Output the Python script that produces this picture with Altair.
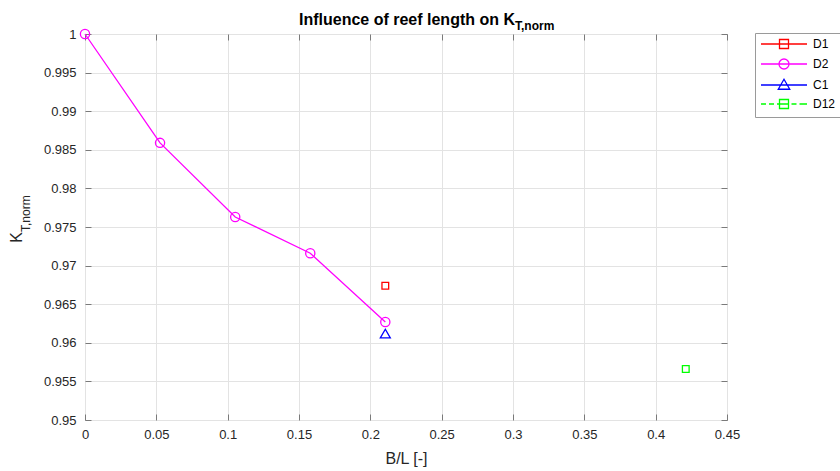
import altair as alt
import pandas as pd

# ---------------- data ----------------
series_names = ["D1", "D2", "C1", "D12"]
series_colors = ["#ff0000", "#ff00ff", "#0000ff", "#00ff00"]

d2_x = [0.0, 0.0526, 0.1053, 0.1579, 0.2105]
d2_y = [1.0, 0.9859, 0.9763, 0.9716, 0.9627]
d1_x = [0.2105]
d1_y = [0.9674]
c1_x = [0.2105]
c1_y = [0.9612]
d12_x = [0.4211]
d12_y = [0.9566]

x_ticks = [0, 0.05, 0.1, 0.15, 0.2, 0.25, 0.3, 0.35, 0.4, 0.45]
y_ticks = [0.95, 0.955, 0.96, 0.965, 0.97, 0.975, 0.98, 0.985, 0.99, 0.995, 1.0]

title_main = "Influence of reef length on K"
title_sub = "T,norm"
x_label = "B/L [-]"
y_label_main = "K"
y_label_sub = "T,norm"

rows = []
for name, xs_, ys_ in [("D1", d1_x, d1_y), ("D2", d2_x, d2_y),
                       ("C1", c1_x, c1_y), ("D12", d12_x, d12_y)]:
    for a, b in zip(xs_, ys_):
        rows.append({"series": name, "x": a, "y": b})
df = pd.DataFrame(rows)

# ---------------- styling ----------------
W, H = 642, 386
FONT = "Liberation Sans"
TXT = "#262626"
BOX = "#7a7a7a"
GRID = "#e3e3e3"
TICK_LEN = 6

xsc = alt.Scale(domain=[0, 0.45], nice=False, zero=False)
ysc = alt.Scale(domain=[0.95, 1.0], nice=False, zero=False)

main_x_axis = alt.Axis(values=x_ticks, format=".2~f", grid=True, gridColor=GRID,
                       ticks=False, domain=False, labelFont=FONT, labelFontSize=13,
                       labelColor=TXT, labelPadding=8, labelFlush=False, title=x_label,
                       titleFont=FONT, titleFontSize=16, titleFontWeight="normal",
                       titleColor=TXT, titlePadding=9)
main_y_axis = alt.Axis(values=y_ticks, format=".3~f", grid=True, gridColor=GRID,
                       ticks=False, domain=False, labelFont=FONT, labelFontSize=13,
                       labelColor=TXT, labelPadding=9, labelFlush=False, title=None)


def tick_axis(orient, offset, values):
    return alt.Axis(orient=orient, offset=offset, values=values, labels=False,
                    grid=False, domain=False, ticks=True, tickSize=TICK_LEN,
                    tickColor=BOX, tickWidth=1, title=None)


base = alt.Chart(df)

line_d2 = base.transform_filter(alt.datum.series == "D2").mark_line(
    color="#ff00ff", strokeWidth=1.3, opacity=1
).encode(
    x=alt.X("x:Q", scale=xsc, axis=main_x_axis),
    y=alt.Y("y:Q", scale=ysc, axis=main_y_axis),
)

pts_d2 = base.transform_filter(alt.datum.series == "D2").mark_point(
    shape="circle", size=85, filled=False, color="#ff00ff", strokeWidth=1.3, opacity=1
).encode(
    x=alt.X("x:Q", scale=xsc, axis=tick_axis("top", -H, x_ticks)),
    y=alt.Y("y:Q", scale=ysc, axis=tick_axis("right", -W, y_ticks)),
)

pts_d1 = base.transform_filter(alt.datum.series == "D1").mark_point(
    shape="square", size=45, filled=False, color="#ff0000", strokeWidth=1.3, opacity=1
).encode(
    x=alt.X("x:Q", scale=xsc, axis=tick_axis("bottom", -H, x_ticks)),
    y=alt.Y("y:Q", scale=ysc, axis=tick_axis("left", -W, y_ticks)),
)

pts_c1 = base.transform_filter(alt.datum.series == "C1").mark_point(
    shape="triangle-up", size=100, filled=False, color="#0000ff", strokeWidth=1.3, opacity=1
).encode(
    x=alt.X("x:Q", scale=xsc, axis=None),
    y=alt.Y("y:Q", scale=ysc, axis=None),
)

pts_d12 = base.transform_filter(alt.datum.series == "D12").mark_point(
    shape="square", size=45, filled=False, color="#00ff00", strokeWidth=1.3, opacity=1
).encode(
    x=alt.X("x:Q", scale=xsc, axis=None),
    y=alt.Y("y:Q", scale=ysc, axis=None),
)

# legend symbols: line + marker (units of 5 px at size 100)
legend_paths = [
    "M-1,0H8.2M2.7,-0.9H4.5V0.9H2.7Z",
    "M-1,0H8.2M4.6,0A1,1,0,1,1,2.6,0A1,1,0,1,1,4.6,0Z",
    "M-1,0H8.2M3.6,-1.15L4.75,0.85H2.45Z",
    "M-1,0H0M0.6,0H1.6M2.2,0H4.5M5.1,0H6.1M6.7,0H8.2M2.7,-0.9H4.5V0.9H2.7Z",
]

legend_props = dict(title=None, orient="none", legendX=670, legendY=-1,
                    symbolSize=100, symbolStrokeWidth=1.3, symbolOpacity=1,
                    symbolFillColor="transparent",
                    labelFont=FONT, labelFontSize=12, labelColor="#000000",
                    labelOffset=41, rowPadding=4, padding=5,
                    strokeColor="#9a9a9a", fillColor="#ffffff")

legend_layer = base.transform_filter("false").mark_point(
    filled=False, size=100, strokeWidth=1.3, opacity=1
).encode(
    shape=alt.Shape("series:N", scale=alt.Scale(domain=series_names, range=legend_paths),
                    legend=alt.Legend(**legend_props)),
    color=alt.Color("series:N", scale=alt.Scale(domain=series_names, range=series_colors),
                    legend=alt.Legend(**legend_props)),
)

# titles with subscripts (text annotations)
title_layer_main = alt.Chart(pd.DataFrame({"t": [title_main]})).mark_text(
    font=FONT, fontSize=16, fontWeight="bold", align="right", baseline="alphabetic", color="#000000"
).encode(text="t:N", x=alt.value(430), y=alt.value(-9))

title_layer_sub = alt.Chart(pd.DataFrame({"t": [title_sub]})).mark_text(
    font=FONT, fontSize=12, fontWeight="bold", align="left", baseline="alphabetic", color="#000000"
).encode(text="t:N", x=alt.value(430), y=alt.value(-4))

ylab_main = alt.Chart(pd.DataFrame({"t": [y_label_main]})).mark_text(
    font=FONT, fontSize=16, align="right", baseline="alphabetic", angle=270, color=TXT
).encode(text="t:N", x=alt.value(-63), y=alt.value(198))

ylab_sub = alt.Chart(pd.DataFrame({"t": [y_label_sub]})).mark_text(
    font=FONT, fontSize=12, align="left", baseline="alphabetic", angle=270, color=TXT
).encode(text="t:N", x=alt.value(-55), y=alt.value(198))

chart = alt.layer(
    line_d2, pts_d2, pts_d1, pts_c1, pts_d12, legend_layer,
    title_layer_main, title_layer_sub, ylab_main, ylab_sub
).resolve_axis(
    x="independent", y="independent"
).properties(
    width=W, height=H,
    autosize=alt.AutoSizeParams(type="none"),
    padding={"left": 85, "top": 34, "right": 113, "bottom": 51},
    background="#ffffff",
).configure_view(
    stroke=BOX, strokeWidth=1
)

chart.save("out.html", embed_options={"renderer": "svg", "actions": False})
